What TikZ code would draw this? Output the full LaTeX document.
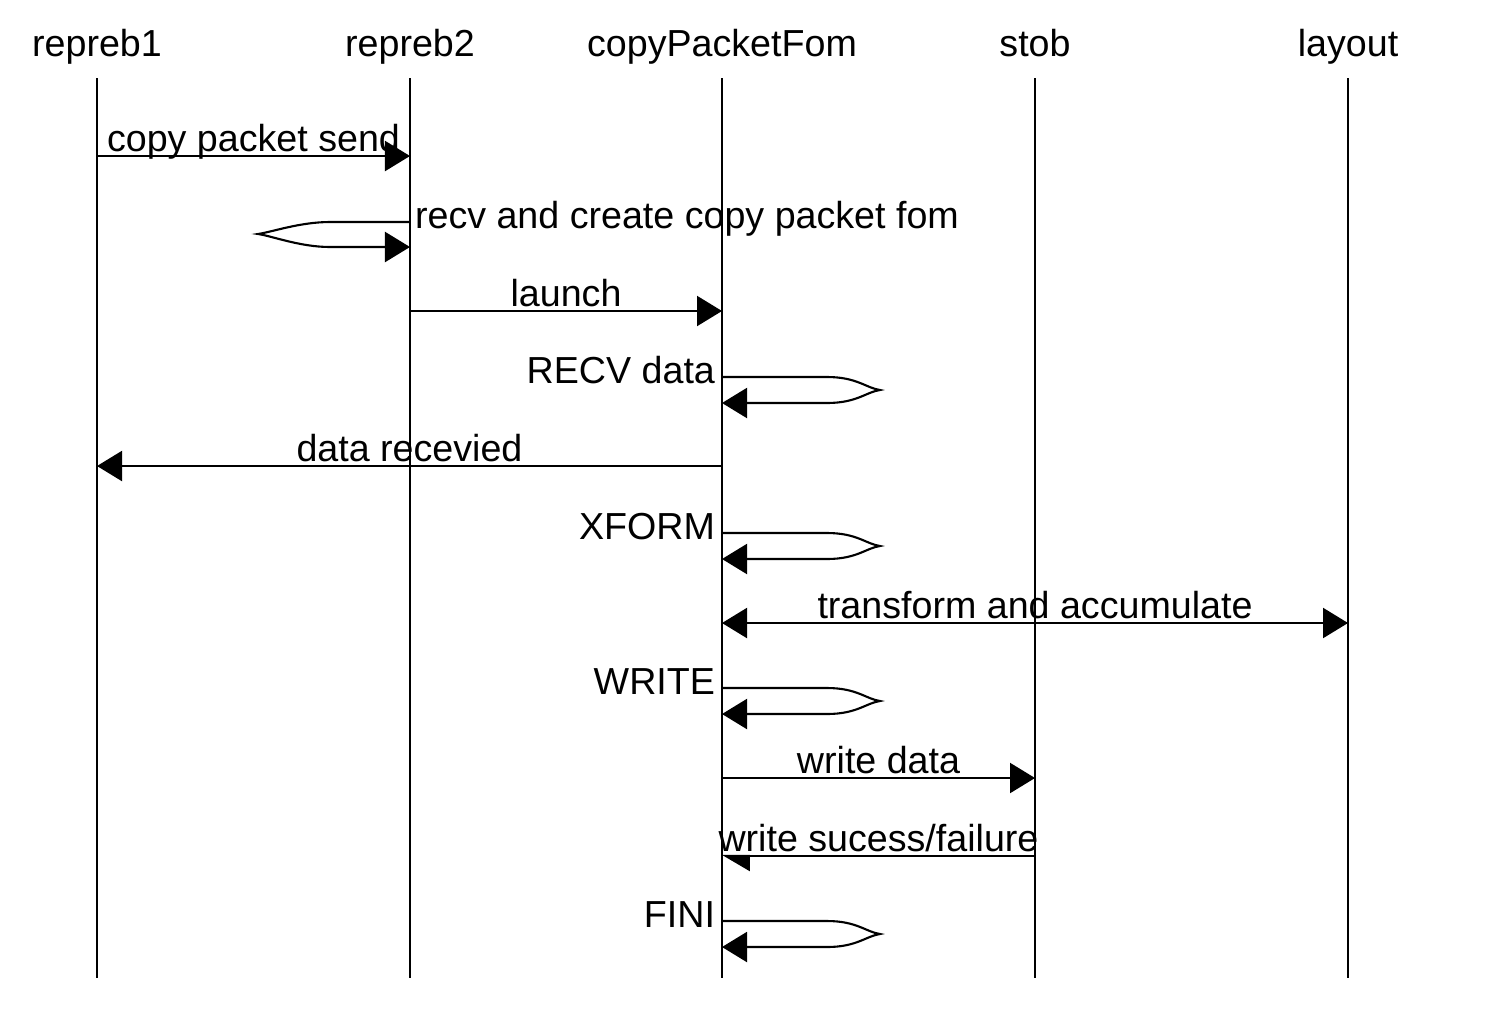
\documentclass[tikz,border=0pt]{standalone}
\usepackage{fontspec}
\setmainfont{Liberation Sans}
\usetikzlibrary{arrows.meta, positioning}

\begin{document}
\begin{tikzpicture}[x=0.01cm, y=-0.01cm, line width=0.6pt,
		> = {Triangle[length=0.25cm, width=0.3cm]},
		every node/.style={font=\fontsize{10.7}{12}\selectfont},
		msg/.style={anchor=base, inner sep=0pt, yshift=0.05cm}]
			\useasboundingbox (0,0) rectangle (1486,1027);
			
			% lifelines
			\coordinate (bottom) at (0,978);
			\foreach \n/\x/\t in {r1/97/repreb1, r2/410/repreb2, cpf/722/copyPacketFom, stob/1035/stob, lay/1348/layout}
			{
				\node [anchor=base] (\n) at (\x,56) {\t};
				\draw (\n |- 0,78) -- (\n |- bottom);
			}
			
			\draw [->] (r1 |- 0,156) -- node [msg] (send) {copy packet send} (r2 |- 0,156);
			
			\draw [->] (r2 |- 0,222) -- (330,222) .. controls (300,222) and (272,232) .. (258,234)
			.. controls (272,236) and (300,247) .. (330,247) -- (r2 |- 0,247);
			\node [anchor=base west, inner sep=0pt] (recv) at (414,228) {recv and create copy packet fom};
			
			\draw [->] (r2 |- 0,311) -- node [msg] (launch) {launch} (cpf |- 0,311);
			\draw [->] (cpf |- 0,466) -- node [msg] (recvd) {data recevied} (r1 |- 0,466);
			\draw [<->] (cpf |- 0,623) -- node [msg] (xacc) {transform and accumulate} (lay |- 0,623);
			\draw [->] (cpf |- 0,778) -- node [msg] (wdata) {write data} (stob |- 0,778);
			\draw [-{Triangle[length=0.26cm, width=0.3cm, left]}] (stob |- 0,856)
			-- node [msg] (wres) {write sucess/failure} (cpf |- 0,856);
			
			% self loops on copyPacketFom
			\foreach \y/\t in {377/RECV data, 533/XFORM, 688/WRITE, 921/FINI}
			{
				\draw [->] (cpf |- 0,\y) -- (827,\y) .. controls (857,\y) and (866,\y+11) .. (880,\y+13)
				.. controls (866,\y+15) and (857,\y+26) .. (827,\y+26) -- (cpf |- 0,\y+26);
				\node [anchor=base east, inner sep=0pt] (loop\y) at (716,\y+6) {\t};
			}
		\end{tikzpicture}
\end{document}
